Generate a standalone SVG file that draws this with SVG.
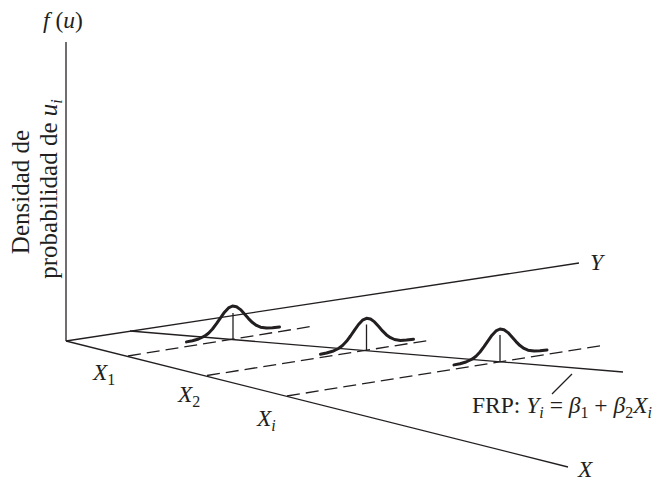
<svg xmlns="http://www.w3.org/2000/svg" width="656" height="481" viewBox="0 0 656 481">
<style>
.ax{stroke:#231f20;stroke-width:1.3;fill:none;stroke-linecap:butt}
.ds{stroke:#231f20;stroke-width:1.3;fill:none;stroke-dasharray:13 6}
.bell{stroke:#231f20;stroke-width:3;fill:none;stroke-linejoin:round;stroke-linecap:round}
.stem{stroke:#231f20;stroke-width:1.3}
text{font-family:"Liberation Serif","Times New Roman",serif;font-size:23.5px;fill:#231f20}
.it{font-style:italic}
.sub{font-size:16px}
.rot{font-size:25px}
</style>
<defs>
<polyline id="bellcurve" class="bell" points="-46,35.9 -40,34.7 -34,33 -28,30.2 -24,27.2 -20,23 -16,17.7 -12,11.8 -8,6.2 -4,1.9 0,0 4,0.7 8,3.6 12,8 16,12.6 20,16.6 24,19.4 28,21.2 34,22.1 40,21.8 47,20.9"/>
</defs>
<rect width="656" height="481" fill="#ffffff"/>
<g id="connectors">
<line class="ax" x1="66" y1="42" x2="66" y2="341"/>
<line class="ax" x1="66" y1="341" x2="579" y2="263"/>
<line class="ax" x1="66" y1="341" x2="568" y2="467"/>
<line class="ax" x1="130" y1="331" x2="623" y2="372"/>
<line class="ds" x1="128" y1="356" x2="311" y2="326.5"/>
<line class="ds" x1="207" y1="375.5" x2="428" y2="340.5"/>
<line class="ds" x1="287" y1="396" x2="605" y2="345"/>
<line class="ax" x1="552" y1="394" x2="572" y2="374"/>
</g>
<g id="bell1">
<use href="#bellcurve" transform="translate(232.5,306)"/>
<line class="stem" x1="233" y1="313" x2="233" y2="339.5"/>
</g>
<g id="bell2">
<use href="#bellcurve" transform="translate(366.5,318.3)"/>
<line class="stem" x1="366.5" y1="324.5" x2="366.5" y2="350.5"/>
</g>
<g id="bell3">
<use href="#bellcurve" transform="translate(500,329)"/>
<line class="stem" x1="500" y1="335" x2="500" y2="361.5"/>
</g>
<g id="labels">
<text x="43" y="28"><tspan class="it">f</tspan> (<tspan class="it">u</tspan>)</text>
<text class="rot" transform="translate(28.5,192) rotate(-90)" text-anchor="middle">Densidad de</text>
<text class="rot" transform="translate(57,189) rotate(-90)" text-anchor="middle">probabilidad de <tspan class="it">u</tspan><tspan class="it sub" dy="5">i</tspan></text>
<text x="590" y="270" class="it">Y</text>
<text x="578" y="477" class="it">X</text>
<text x="93" y="380"><tspan class="it">X</tspan><tspan class="sub" dy="5">1</tspan></text>
<text x="178" y="401.5"><tspan class="it">X</tspan><tspan class="sub" dy="5">2</tspan></text>
<text x="257" y="426"><tspan class="it">X</tspan><tspan class="it sub" dy="5">i</tspan></text>
<text x="472" y="413">FRP: <tspan class="it">Y</tspan><tspan class="it sub" dy="5">i</tspan><tspan dy="-5"> = </tspan><tspan class="it">β</tspan><tspan class="sub" dy="5">1</tspan><tspan dy="-5"> + </tspan><tspan class="it">β</tspan><tspan class="sub" dy="5">2</tspan><tspan class="it" dy="-5">X</tspan><tspan class="it sub" dy="5">i</tspan></text>
</g>
</svg>
